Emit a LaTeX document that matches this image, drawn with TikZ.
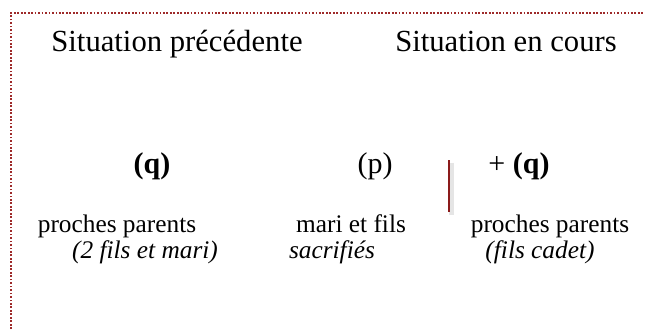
\documentclass[tikz,border=0pt]{standalone}
\usepackage{fontspec}
\setmainfont{Liberation Serif}
\usetikzlibrary{positioning}
\definecolor{framered}{HTML}{9E2A2A}
\definecolor{barred}{HTML}{8B1A1A}
\tikzstyle{heading} = [anchor=base, inner sep=0pt, font=\fontsize{23}{27}\selectfont]
\tikzstyle{term} = [anchor=base, inner sep=0pt, font=\fontsize{22.5}{27}\selectfont]
\tikzstyle{group} = [anchor=base, inner sep=0pt, font=\fontsize{19}{23}\selectfont]
\tikzstyle{gloss} = [anchor=base, inner sep=0pt, font=\fontsize{19}{23}\selectfont\itshape]
\begin{document}
\begin{tikzpicture}[x=0.75pt, y=-0.75pt]
    \useasboundingbox (0,0) rectangle (645,329);
    \draw[framered, line width=1.4pt, dash pattern=on 1.3pt off 1.3pt] (11,329) -- (11,13) -- (645,13);

    \node[heading] (prev) at (177,51) {Situation précédente};
    \node[heading] (curr) at (506,51) {Situation en cours};

    \node[term] (qprev) at (152,173) {\textbf{(q)}};
    \node[term] (pnow) at (375,173) {(p)};
    \node[term] (qnow) at (519,173) {+ \textbf{(q)}};

    \node[group] (parents) at (117,232) {proches parents};
    \node[group] (sacrifice) at (351,232) {mari et fils};
    \node[group] (cadet) at (550,232) {proches parents};

    \node[gloss] (parentsnote) at (145,258) {(2 fils et mari)};
    \node[gloss] (sacrificenote) at (332,258) {sacrifiés};
    \node[gloss] (cadetnote) at (540,258) {(fils cadet)};

    % separation between the two situations
    \coordinate (bartop) at (449,160);
    \coordinate (barbot) at (449,212);
    \draw[black!10, line width=3.5pt] ([shift={(2.5,2.5)}]bartop) -- ([shift={(2.5,2.5)}]barbot);
    \draw[barred, line width=1.9pt] (bartop) -- (barbot);
\end{tikzpicture}
\end{document}
